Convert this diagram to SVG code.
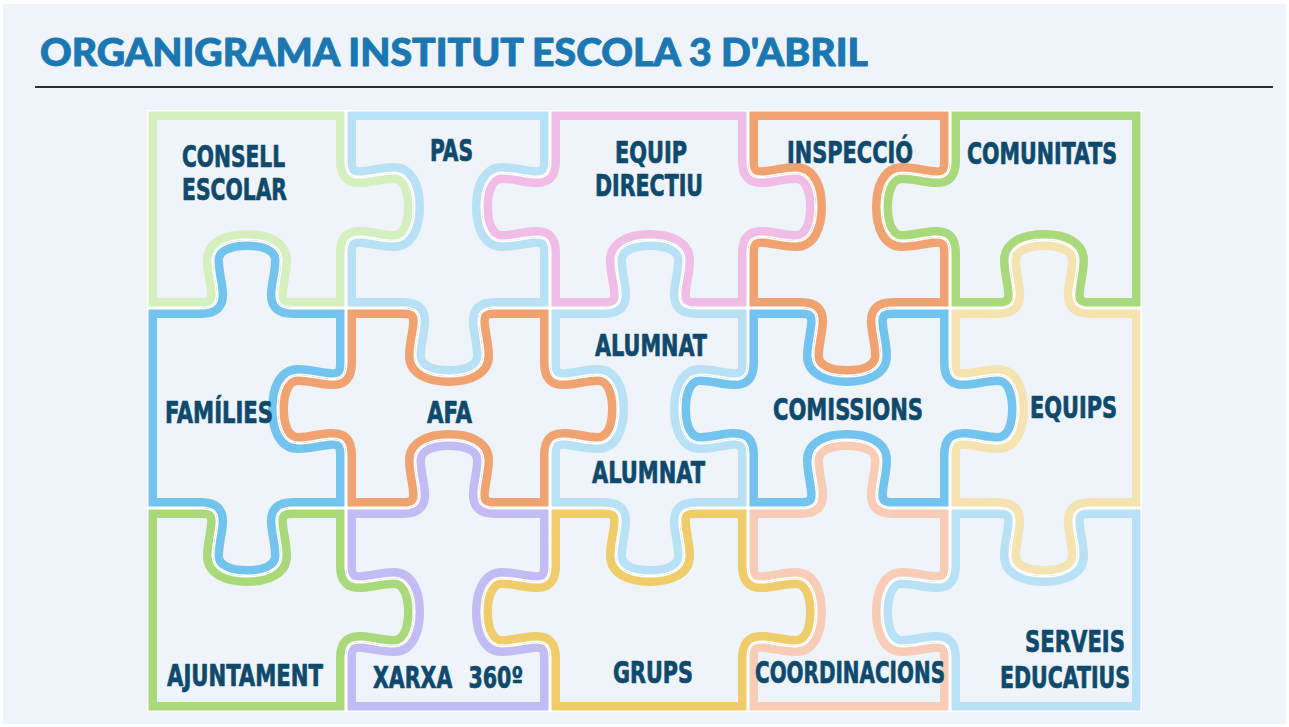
<svg xmlns="http://www.w3.org/2000/svg" xmlns:xlink="http://www.w3.org/1999/xlink" width="1289" height="727" viewBox="0 0 1289 727">
<style>
.band{fill:none;stroke-width:20;stroke-linejoin:round}
.gap{fill:none;stroke:#ffffff;stroke-width:3;stroke-linejoin:round}
.lbl{font-family:"DejaVu Sans Condensed","DejaVu Sans","Liberation Sans",sans-serif;font-weight:bold;font-size:30px;fill:#0f4a6d;stroke:#0f4a6d;stroke-width:0.7;stroke-linejoin:round}
.title{font-family:"Lato","Liberation Sans",sans-serif;font-weight:900;font-size:38px;fill:#1a77b2;stroke:#1a77b2;stroke-width:0.9;stroke-linejoin:round}
</style>
<defs>
<path id="p1" d="M147,110 L346,110 L346,161 c0,12 4,17 16,16 c12,-1 20,-4 32,-4 c13,0 20,14 20,34 c0,20 -7,34 -20,34 c-12,0 -20,-3 -32,-4 c-12,-1 -16,4 -16,16 L346,308 L293,308 c-12,0 -17,-4 -16,-16 c1,-12 4,-20 4,-32 c0,-13 -14,-20 -34,-20 c-20,0 -34,7 -34,20 c0,12 3,20 4,32 c1,12 -4,16 -16,16 L147,308 Z"/>
<path id="p2" d="M346,110 L550,110 L550,161 c0,12 -4,17 -16,16 c-12,-1 -20,-4 -32,-4 c-13,0 -20,14 -20,34 c0,20 7,34 20,34 c12,0 20,-3 32,-4 c12,-1 16,4 16,16 L550,308 L495,308 c-12,0 -17,4 -16,16 c1,12 4,20 4,32 c0,13 -14,20 -34,20 c-20,0 -34,-7 -34,-20 c0,-12 3,-20 4,-32 c1,-12 -4,-16 -16,-16 L346,308 L346,253 c0,-12 4,-17 16,-16 c12,1 20,4 32,4 c13,0 20,-14 20,-34 c0,-20 -7,-34 -20,-34 c-12,0 -20,3 -32,4 c-12,1 -16,-4 -16,-16 Z"/>
<path id="p3" d="M550,110 L748,110 L748,161 c0,12 4,17 16,16 c12,-1 20,-4 32,-4 c13,0 20,14 20,34 c0,20 -7,34 -20,34 c-12,0 -20,-3 -32,-4 c-12,-1 -16,4 -16,16 L748,308 L696,308 c-12,0 -17,-4 -16,-16 c1,-12 4,-20 4,-32 c0,-13 -14,-20 -34,-20 c-20,0 -34,7 -34,20 c0,12 3,20 4,32 c1,12 -4,16 -16,16 L550,308 L550,253 c0,-12 -4,-17 -16,-16 c-12,1 -20,4 -32,4 c-13,0 -20,-14 -20,-34 c0,-20 7,-34 20,-34 c12,0 20,3 32,4 c12,1 16,-4 16,-16 Z"/>
<path id="p4" d="M748,110 L950,110 L950,161 c0,12 -4,17 -16,16 c-12,-1 -20,-4 -32,-4 c-13,0 -20,14 -20,34 c0,20 7,34 20,34 c12,0 20,-3 32,-4 c12,-1 16,4 16,16 L950,308 L893,308 c-12,0 -17,4 -16,16 c1,12 4,20 4,32 c0,13 -14,20 -34,20 c-20,0 -34,-7 -34,-20 c0,-12 3,-20 4,-32 c1,-12 -4,-16 -16,-16 L748,308 L748,253 c0,-12 4,-17 16,-16 c12,1 20,4 32,4 c13,0 20,-14 20,-34 c0,-20 -7,-34 -20,-34 c-12,0 -20,3 -32,4 c-12,1 -16,-4 -16,-16 Z"/>
<path id="p5" d="M950,110 L1142,110 L1142,308 L1090,308 c-12,0 -17,-4 -16,-16 c1,-12 4,-20 4,-32 c0,-13 -14,-20 -34,-20 c-20,0 -34,7 -34,20 c0,12 3,20 4,32 c1,12 -4,16 -16,16 L950,308 L950,253 c0,-12 -4,-17 -16,-16 c-12,1 -20,4 -32,4 c-13,0 -20,-14 -20,-34 c0,-20 7,-34 20,-34 c12,0 20,3 32,4 c12,1 16,-4 16,-16 Z"/>
<path id="p6" d="M147,308 L201,308 c12,0 17,-4 16,-16 c-1,-12 -4,-20 -4,-32 c0,-13 14,-20 34,-20 c20,0 34,7 34,20 c0,12 -3,20 -4,32 c-1,12 4,16 16,16 L346,308 L346,363 c0,12 -4,17 -16,16 c-12,-1 -20,-4 -32,-4 c-13,0 -20,14 -20,34 c0,20 7,34 20,34 c12,0 20,-3 32,-4 c12,-1 16,4 16,16 L346,508 L293,508 c-12,0 -17,4 -16,16 c1,12 4,20 4,32 c0,13 -14,20 -34,20 c-20,0 -34,-7 -34,-20 c0,-12 3,-20 4,-32 c1,-12 -4,-16 -16,-16 L147,508 Z"/>
<path id="p7" d="M346,308 L403,308 c12,0 17,4 16,16 c-1,12 -4,20 -4,32 c0,13 14,20 34,20 c20,0 34,-7 34,-20 c0,-12 -3,-20 -4,-32 c-1,-12 4,-16 16,-16 L550,308 L550,363 c0,12 4,17 16,16 c12,-1 20,-4 32,-4 c13,0 20,14 20,34 c0,20 -7,34 -20,34 c-12,0 -20,-3 -32,-4 c-12,-1 -16,4 -16,16 L550,508 L495,508 c-12,0 -17,-4 -16,-16 c1,-12 4,-20 4,-32 c0,-13 -14,-20 -34,-20 c-20,0 -34,7 -34,20 c0,12 3,20 4,32 c1,12 -4,16 -16,16 L346,508 L346,455 c0,-12 -4,-17 -16,-16 c-12,1 -20,4 -32,4 c-13,0 -20,-14 -20,-34 c0,-20 7,-34 20,-34 c12,0 20,3 32,4 c12,1 16,-4 16,-16 Z"/>
<path id="p8" d="M550,308 L604,308 c12,0 17,-4 16,-16 c-1,-12 -4,-20 -4,-32 c0,-13 14,-20 34,-20 c20,0 34,7 34,20 c0,12 -3,20 -4,32 c-1,12 4,16 16,16 L748,308 L748,363 c0,12 -4,17 -16,16 c-12,-1 -20,-4 -32,-4 c-13,0 -20,14 -20,34 c0,20 7,34 20,34 c12,0 20,-3 32,-4 c12,-1 16,4 16,16 L748,508 L696,508 c-12,0 -17,4 -16,16 c1,12 4,20 4,32 c0,13 -14,20 -34,20 c-20,0 -34,-7 -34,-20 c0,-12 3,-20 4,-32 c1,-12 -4,-16 -16,-16 L550,508 L550,455 c0,-12 4,-17 16,-16 c12,1 20,4 32,4 c13,0 20,-14 20,-34 c0,-20 -7,-34 -20,-34 c-12,0 -20,3 -32,4 c-12,1 -16,-4 -16,-16 Z"/>
<path id="p9" d="M748,308 L801,308 c12,0 17,4 16,16 c-1,12 -4,20 -4,32 c0,13 14,20 34,20 c20,0 34,-7 34,-20 c0,-12 -3,-20 -4,-32 c-1,-12 4,-16 16,-16 L950,308 L950,363 c0,12 4,17 16,16 c12,-1 20,-4 32,-4 c13,0 20,14 20,34 c0,20 -7,34 -20,34 c-12,0 -20,-3 -32,-4 c-12,-1 -16,4 -16,16 L950,508 L893,508 c-12,0 -17,-4 -16,-16 c1,-12 4,-20 4,-32 c0,-13 -14,-20 -34,-20 c-20,0 -34,7 -34,20 c0,12 3,20 4,32 c1,12 -4,16 -16,16 L748,508 L748,455 c0,-12 -4,-17 -16,-16 c-12,1 -20,4 -32,4 c-13,0 -20,-14 -20,-34 c0,-20 7,-34 20,-34 c12,0 20,3 32,4 c12,1 16,-4 16,-16 Z"/>
<path id="p10" d="M950,308 L998,308 c12,0 17,-4 16,-16 c-1,-12 -4,-20 -4,-32 c0,-13 14,-20 34,-20 c20,0 34,7 34,20 c0,12 -3,20 -4,32 c-1,12 4,16 16,16 L1142,308 L1142,508 L1090,508 c-12,0 -17,4 -16,16 c1,12 4,20 4,32 c0,13 -14,20 -34,20 c-20,0 -34,-7 -34,-20 c0,-12 3,-20 4,-32 c1,-12 -4,-16 -16,-16 L950,508 L950,455 c0,-12 4,-17 16,-16 c12,1 20,4 32,4 c13,0 20,-14 20,-34 c0,-20 -7,-34 -20,-34 c-12,0 -20,3 -32,4 c-12,1 -16,-4 -16,-16 Z"/>
<path id="p11" d="M147,508 L201,508 c12,0 17,4 16,16 c-1,12 -4,20 -4,32 c0,13 14,20 34,20 c20,0 34,-7 34,-20 c0,-12 -3,-20 -4,-32 c-1,-12 4,-16 16,-16 L346,508 L346,566 c0,12 4,17 16,16 c12,-1 20,-4 32,-4 c13,0 20,14 20,34 c0,20 -7,34 -20,34 c-12,0 -20,-3 -32,-4 c-12,-1 -16,4 -16,16 L346,712 L147,712 Z"/>
<path id="p12" d="M346,508 L403,508 c12,0 17,-4 16,-16 c-1,-12 -4,-20 -4,-32 c0,-13 14,-20 34,-20 c20,0 34,7 34,20 c0,12 -3,20 -4,32 c-1,12 4,16 16,16 L550,508 L550,566 c0,12 -4,17 -16,16 c-12,-1 -20,-4 -32,-4 c-13,0 -20,14 -20,34 c0,20 7,34 20,34 c12,0 20,-3 32,-4 c12,-1 16,4 16,16 L550,712 L346,712 L346,658 c0,-12 4,-17 16,-16 c12,1 20,4 32,4 c13,0 20,-14 20,-34 c0,-20 -7,-34 -20,-34 c-12,0 -20,3 -32,4 c-12,1 -16,-4 -16,-16 Z"/>
<path id="p13" d="M550,508 L604,508 c12,0 17,4 16,16 c-1,12 -4,20 -4,32 c0,13 14,20 34,20 c20,0 34,-7 34,-20 c0,-12 -3,-20 -4,-32 c-1,-12 4,-16 16,-16 L748,508 L748,566 c0,12 4,17 16,16 c12,-1 20,-4 32,-4 c13,0 20,14 20,34 c0,20 -7,34 -20,34 c-12,0 -20,-3 -32,-4 c-12,-1 -16,4 -16,16 L748,712 L550,712 L550,658 c0,-12 -4,-17 -16,-16 c-12,1 -20,4 -32,4 c-13,0 -20,-14 -20,-34 c0,-20 7,-34 20,-34 c12,0 20,3 32,4 c12,1 16,-4 16,-16 Z"/>
<path id="p14" d="M748,508 L801,508 c12,0 17,-4 16,-16 c-1,-12 -4,-20 -4,-32 c0,-13 14,-20 34,-20 c20,0 34,7 34,20 c0,12 -3,20 -4,32 c-1,12 4,16 16,16 L950,508 L950,566 c0,12 -4,17 -16,16 c-12,-1 -20,-4 -32,-4 c-13,0 -20,14 -20,34 c0,20 7,34 20,34 c12,0 20,-3 32,-4 c12,-1 16,4 16,16 L950,712 L748,712 L748,658 c0,-12 4,-17 16,-16 c12,1 20,4 32,4 c13,0 20,-14 20,-34 c0,-20 -7,-34 -20,-34 c-12,0 -20,3 -32,4 c-12,1 -16,-4 -16,-16 Z"/>
<path id="p15" d="M950,508 L998,508 c12,0 17,4 16,16 c-1,12 -4,20 -4,32 c0,13 14,20 34,20 c20,0 34,-7 34,-20 c0,-12 -3,-20 -4,-32 c-1,-12 4,-16 16,-16 L1142,508 L1142,712 L950,712 L950,658 c0,-12 -4,-17 -16,-16 c-12,1 -20,4 -32,4 c-13,0 -20,-14 -20,-34 c0,-20 7,-34 20,-34 c12,0 20,3 32,4 c12,1 16,-4 16,-16 Z"/>
<clipPath id="c1"><use href="#p1"/></clipPath>
<clipPath id="c2"><use href="#p2"/></clipPath>
<clipPath id="c3"><use href="#p3"/></clipPath>
<clipPath id="c4"><use href="#p4"/></clipPath>
<clipPath id="c5"><use href="#p5"/></clipPath>
<clipPath id="c6"><use href="#p6"/></clipPath>
<clipPath id="c7"><use href="#p7"/></clipPath>
<clipPath id="c8"><use href="#p8"/></clipPath>
<clipPath id="c9"><use href="#p9"/></clipPath>
<clipPath id="c10"><use href="#p10"/></clipPath>
<clipPath id="c11"><use href="#p11"/></clipPath>
<clipPath id="c12"><use href="#p12"/></clipPath>
<clipPath id="c13"><use href="#p13"/></clipPath>
<clipPath id="c14"><use href="#p14"/></clipPath>
<clipPath id="c15"><use href="#p15"/></clipPath>
</defs>
<rect x="0" y="0" width="1289" height="727" fill="#ffffff"/>
<rect x="3" y="4" width="1283" height="720" fill="#eef4f9"/>
<g id="header">
<text class="title" x="40" y="66" textLength="828" lengthAdjust="spacingAndGlyphs">ORGANIGRAMA INSTITUT ESCOLA 3 D'ABRIL</text>
<line x1="35" y1="87" x2="1273" y2="87" stroke="#2a2f3a" stroke-width="2"/>
</g>
<g id="connectors"/>
<g id="n-consell">
<use href="#p1" class="band" stroke="#d5efbf" clip-path="url(#c1)"/><use href="#p1" class="gap" clip-path="url(#c1)"/>
<text class="lbl" x="182" y="167" textLength="103" lengthAdjust="spacingAndGlyphs">CONSELL</text>
<text class="lbl" x="182" y="200" textLength="105" lengthAdjust="spacingAndGlyphs">ESCOLAR</text>
</g>
<g id="n-pas">
<use href="#p2" class="band" stroke="#b9e1f5" clip-path="url(#c2)"/><use href="#p2" class="gap" clip-path="url(#c2)"/>
<text class="lbl" x="430" y="161" textLength="43" lengthAdjust="spacingAndGlyphs">PAS</text>
</g>
<g id="n-equip-directiu">
<use href="#p3" class="band" stroke="#f0bde6" clip-path="url(#c3)"/><use href="#p3" class="gap" clip-path="url(#c3)"/>
<text class="lbl" x="615" y="163" textLength="72" lengthAdjust="spacingAndGlyphs">EQUIP</text>
<text class="lbl" x="595" y="196" textLength="108" lengthAdjust="spacingAndGlyphs">DIRECTIU</text>
</g>
<g id="n-inspeccio">
<use href="#p4" class="band" stroke="#f1a271" clip-path="url(#c4)"/><use href="#p4" class="gap" clip-path="url(#c4)"/>
<text class="lbl" x="787" y="163" textLength="126" lengthAdjust="spacingAndGlyphs">INSPECCIÓ</text>
</g>
<g id="n-comunitats">
<use href="#p5" class="band" stroke="#aad97c" clip-path="url(#c5)"/><use href="#p5" class="gap" clip-path="url(#c5)"/>
<text class="lbl" x="967" y="164" textLength="150" lengthAdjust="spacingAndGlyphs">COMUNITATS</text>
</g>
<g id="n-families">
<use href="#p6" class="band" stroke="#73c3ef" clip-path="url(#c6)"/><use href="#p6" class="gap" clip-path="url(#c6)"/>
<text class="lbl" x="165" y="423" textLength="108" lengthAdjust="spacingAndGlyphs">FAMÍLIES</text>
</g>
<g id="n-afa">
<use href="#p7" class="band" stroke="#f1a271" clip-path="url(#c7)"/><use href="#p7" class="gap" clip-path="url(#c7)"/>
<text class="lbl" x="427" y="423" textLength="45" lengthAdjust="spacingAndGlyphs">AFA</text>
</g>
<g id="n-alumnat">
<use href="#p8" class="band" stroke="#b9e1f5" clip-path="url(#c8)"/><use href="#p8" class="gap" clip-path="url(#c8)"/>
<text class="lbl" x="595" y="356" textLength="112" lengthAdjust="spacingAndGlyphs">ALUMNAT</text>
<text class="lbl" x="592" y="483" textLength="113" lengthAdjust="spacingAndGlyphs">ALUMNAT</text>
</g>
<g id="n-comissions">
<use href="#p9" class="band" stroke="#73c3ef" clip-path="url(#c9)"/><use href="#p9" class="gap" clip-path="url(#c9)"/>
<text class="lbl" x="773" y="420" textLength="150" lengthAdjust="spacingAndGlyphs">COMISSIONS</text>
</g>
<g id="n-equips">
<use href="#p10" class="band" stroke="#f5e3b1" clip-path="url(#c10)"/><use href="#p10" class="gap" clip-path="url(#c10)"/>
<text class="lbl" x="1030" y="418" textLength="87" lengthAdjust="spacingAndGlyphs">EQUIPS</text>
</g>
<g id="n-ajuntament">
<use href="#p11" class="band" stroke="#aad97c" clip-path="url(#c11)"/><use href="#p11" class="gap" clip-path="url(#c11)"/>
<text class="lbl" x="167" y="686" textLength="156" lengthAdjust="spacingAndGlyphs">AJUNTAMENT</text>
</g>
<g id="n-xarxa">
<use href="#p12" class="band" stroke="#c3bbf3" clip-path="url(#c12)"/><use href="#p12" class="gap" clip-path="url(#c12)"/>
<text class="lbl" x="373" y="688" textLength="150" lengthAdjust="spacingAndGlyphs" word-spacing="12">XARXA 360º</text>
</g>
<g id="n-grups">
<use href="#p13" class="band" stroke="#f0cd6b" clip-path="url(#c13)"/><use href="#p13" class="gap" clip-path="url(#c13)"/>
<text class="lbl" x="613" y="683" textLength="80" lengthAdjust="spacingAndGlyphs">GRUPS</text>
</g>
<g id="n-coordinacions">
<use href="#p14" class="band" stroke="#f8cdb8" clip-path="url(#c14)"/><use href="#p14" class="gap" clip-path="url(#c14)"/>
<text class="lbl" x="755" y="683" textLength="190" lengthAdjust="spacingAndGlyphs">COORDINACIONS</text>
</g>
<g id="n-serveis">
<use href="#p15" class="band" stroke="#b9e1f5" clip-path="url(#c15)"/><use href="#p15" class="gap" clip-path="url(#c15)"/>
<text class="lbl" x="1025" y="652" textLength="100" lengthAdjust="spacingAndGlyphs">SERVEIS</text>
<text class="lbl" x="1000" y="688" textLength="130" lengthAdjust="spacingAndGlyphs">EDUCATIUS</text>
</g>
</svg>
